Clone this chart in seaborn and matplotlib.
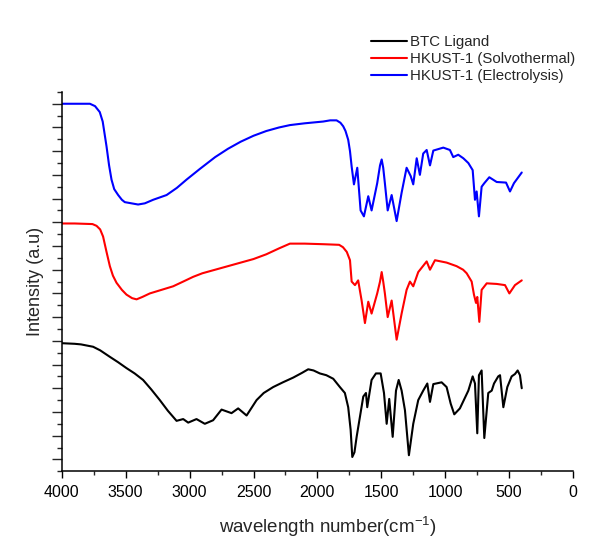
import numpy as np
import matplotlib
matplotlib.use('Agg')
import matplotlib.pyplot as plt
import seaborn as sns

# wavenumbers (cm-1) and offset intensities
btc_wn = [4000, 3900, 3850, 3755, 3700, 3624, 3560, 3494, 3430, 3364, 3300, 3233, 3170, 3102, 3050,
          3011, 2946, 2881, 2816, 2750, 2672, 2620, 2554, 2476, 2420, 2346, 2270, 2189, 2120, 2072,
          2030, 1981, 1930, 1876, 1824, 1785, 1759, 1740, 1727, 1710, 1693, 1641, 1620, 1610,
          1576, 1542, 1505, 1479, 1458, 1438, 1411, 1385, 1364, 1341, 1315, 1284, 1250, 1211, 1172,
          1140, 1119, 1093, 1028, 989, 957, 929, 885, 819, 785, 767, 749, 736, 715, 694, 663, 636,
          618, 585, 571, 545, 514, 480, 454, 433, 415, 401]
btc_int = [10.8, 10.75, 10.7, 10.5, 10.2, 9.65, 9.2, 8.7, 8.25, 7.7, 6.9, 6.0, 5.1, 4.25, 4.4,
           4.1, 4.4, 4.0, 4.3, 5.2, 4.9, 5.3, 4.7, 6.0, 6.6, 7.1, 7.5, 7.9, 8.3, 8.6,
           8.5, 8.25, 8.1, 7.8, 7.1, 6.6, 5.4, 3.5, 1.2, 1.6, 2.9, 6.3, 6.6, 5.4,
           7.7, 8.25, 8.25, 6.6, 4.0, 6.1, 2.9, 6.8, 7.7, 6.8, 5.15, 1.35, 4.0, 6.0, 6.8,
           7.4, 5.85, 7.35, 7.5, 7.1, 5.7, 4.8, 5.3, 6.8, 8.0, 7.4, 3.2, 8.1, 8.5, 2.8, 6.6, 6.8,
           7.4, 8.0, 8.1, 5.4, 7.1, 8.0, 8.2, 8.5, 8.1, 7.0]

solvo_wn = [4000, 3900, 3760, 3728, 3700, 3677, 3650, 3624, 3600, 3572, 3530, 3494, 3450, 3415, 3370,
            3311, 3220, 3129, 3050, 2972, 2900, 2800, 2700, 2600, 2500, 2400, 2300, 2215, 2100, 1950,
            1830, 1800, 1770, 1745, 1732, 1706, 1681, 1654, 1628, 1602, 1576, 1532, 1510, 1497, 1485,
            1472, 1450, 1419, 1380, 1341, 1302, 1276, 1250, 1211, 1145, 1119, 1080, 989, 911, 860,
            832, 793, 775, 759, 749, 733, 715, 675, 597, 532, 498, 454, 401]
solvo_int = [20.9, 20.9, 20.85, 20.7, 20.4, 19.8, 18.5, 17.3, 16.5, 15.9, 15.3, 14.9, 14.6, 14.5, 14.7,
             15.0, 15.3, 15.6, 16.0, 16.4, 16.7, 17.0, 17.3, 17.6, 17.9, 18.3, 18.8, 19.2, 19.2, 19.15,
             19.1, 18.9, 18.5, 17.8, 16.0, 15.7, 16.1, 14.4, 12.5, 14.3, 13.3, 15.0, 16.0, 16.8, 16.0,
             15.0, 13.0, 14.4, 11.1, 13.3, 15.3, 16.0, 15.6, 16.8, 17.7, 17.0, 17.8, 17.6, 17.3, 17.0,
             16.7, 16.0, 14.9, 14.2, 14.7, 12.6, 15.3, 15.85, 15.8, 15.7, 15.0, 15.7, 16.1]

electro_wn = [4000, 3900, 3780, 3740, 3703, 3680, 3650, 3630, 3611, 3590, 3559, 3530, 3507, 3403, 3350,
              3285, 3180, 3100, 3024, 2920, 2800, 2700, 2600, 2500, 2400, 2300, 2215, 2100, 1955, 1900,
              1850, 1820, 1798, 1780, 1759, 1745, 1732, 1714, 1688, 1662, 1636, 1602, 1576, 1532,
              1510, 1497, 1485, 1472, 1450, 1419, 1380, 1341, 1302, 1270, 1250, 1223, 1198, 1172, 1145,
              1119, 1093, 1015, 963, 937, 898, 858, 819, 785, 767, 754, 736, 715, 694, 655, 597, 524,
              493, 462, 401]
electro_int = [31.0, 31.0, 31.0, 30.8, 30.3, 29.5, 27.4, 25.8, 24.6, 23.8, 23.3, 22.9, 22.7, 22.5, 22.6,
               22.9, 23.3, 23.9, 24.6, 25.5, 26.5, 27.2, 27.8, 28.3, 28.7, 29.0, 29.2, 29.35, 29.5, 29.6,
               29.6, 29.4, 29.1, 28.7, 27.96, 27.0, 25.7, 24.2, 25.6, 22.0, 21.5, 23.2, 22.0, 24.3,
               25.8, 26.3, 25.6, 24.3, 22.0, 23.3, 21.1, 23.5, 25.6, 24.9, 24.2, 26.4, 25.0, 26.8, 27.1,
               25.8, 27.05, 27.3, 27.1, 26.5, 26.7, 26.4, 26.0, 25.4, 22.9, 23.6, 21.5, 24.0, 24.3, 24.8,
               24.4, 24.35, 23.6, 24.3, 25.2]

labels = ['BTC Ligand', 'HKUST-1 (Solvothermal)', 'HKUST-1 (Electrolysis)']

sns.set_style('ticks')
plt.rcParams['font.family'] = ['Liberation Sans', 'DejaVu Sans']
plt.rcParams['mathtext.default'] = 'regular'

fig = plt.figure(figsize=(6, 5.57), dpi=100)
ax = fig.add_axes([0.103, 0.154, 0.852, 0.681])

sns.lineplot(x=btc_wn, y=btc_int, color='black', lw=1.5, label=labels[0], ax=ax, legend=False)
sns.lineplot(x=solvo_wn, y=solvo_int, color='#ff0000', lw=1.5, label=labels[1], ax=ax, legend=False)
sns.lineplot(x=electro_wn, y=electro_int, color='#0000ff', lw=1.5, label=labels[2], ax=ax, legend=False)

ax.set_xlim(4000, 0)
ax.set_ylim(0, 32)
ax.set_xticks(np.arange(0, 4001, 500))
ax.set_xticks(np.arange(0, 4001, 250), minor=True)
ax.set_yticks(np.arange(1, 32, 2))
ax.set_yticks(np.arange(0, 33, 1), minor=True)
ax.set_yticklabels([])
ax.tick_params(axis='x', which='major', direction='out', length=5, width=1, labelsize=11.5, colors='black', pad=5)
ax.tick_params(axis='x', which='minor', direction='out', length=3, width=1)
ax.tick_params(axis='y', which='major', direction='out', length=7, width=1)
ax.tick_params(axis='y', which='minor', direction='out', length=3.5, width=1)
sns.despine(ax=ax)
for s in ['left', 'bottom']:
    ax.spines[s].set_color('black')
    ax.spines[s].set_linewidth(1.1)

ax.set_xlabel('wavelength number(cm$^{-1}$)', fontsize=13.5)
ax.xaxis.set_label_coords(0.52, -0.115)
ax.set_ylabel('Intensity (a.u)', fontsize=13, labelpad=2)

handles, labs = ax.get_legend_handles_labels()
fig.legend(handles, labs, loc='upper left', bbox_to_anchor=(0.605, 0.95), frameon=False,
           fontsize=10.8, handlelength=2.4, handletextpad=0.2, labelspacing=0.2, borderpad=0)

fig.savefig('out.png', dpi=100)
